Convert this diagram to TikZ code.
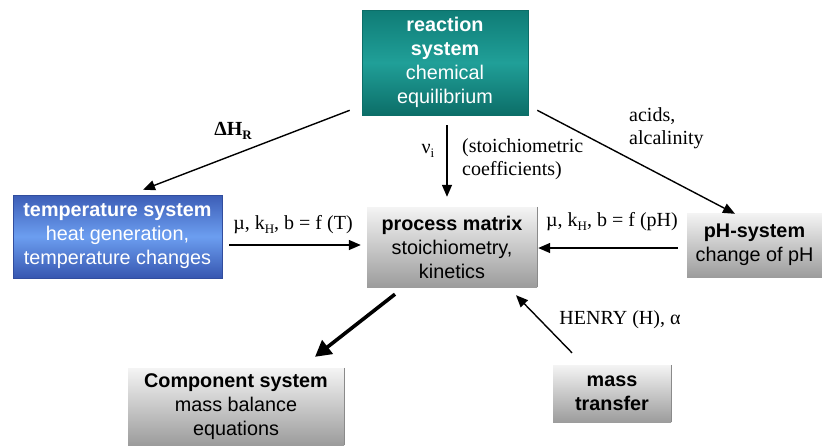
\documentclass[tikz,border=0pt]{standalone}
\usepackage{fontspec}
\setmainfont{Liberation Serif}
\newfontfamily\boxfont{Liberation Sans}
\usetikzlibrary{calc,arrows.meta}

\definecolor{tealtop}{HTML}{0F7C76}
\definecolor{tealmid}{HTML}{209F98}
\definecolor{tealbot}{HTML}{0C6E68}
\definecolor{bluetop}{HTML}{3C5DB6}
\definecolor{bluemid}{HTML}{6C9EF0}
\definecolor{bluebot}{HTML}{3656B0}
\definecolor{greytop}{HTML}{F4F4F4}
\definecolor{greybot}{HTML}{9C9C9C}
\definecolor{greyedge}{HTML}{8A8A8A}

\newcommand{\lowidx}[1]{\raisebox{-0.4ex}{\fontsize{13}{13}\selectfont #1}}

\tikzset{
  sysbox/.style={inner sep=0pt, align=center, text=white,
    font=\boxfont\fontsize{19.8}{24}\selectfont},
  tealbox/.style={sysbox, top color=tealtop, bottom color=tealbot, middle color=tealmid,
    draw=tealbot, line width=0.6pt},
  bluebox/.style={sysbox, top color=bluetop, bottom color=bluebot, middle color=bluemid,
    draw=bluebot!90!black, line width=0.6pt},
  greybox/.style={sysbox, text=black, top color=greytop, bottom color=greybot},
  lbl/.style={inner sep=0pt, font=\fontsize{20}{23}\selectfont},
  arr/.style={line width=1.4pt, -{Triangle[length=12pt,width=10pt]}},
  bigarr/.style={line width=3.6pt, -{Triangle[length=16pt,width=17pt]}},
}

\begin{document}
\begin{tikzpicture}[x=1pt,y=-1pt]
\useasboundingbox (0,0) rectangle (822,445);

% system boxes
\node[tealbox, minimum width=166pt, minimum height=105pt] (rs) at (445,62.5)
  {\textbf{reaction}\\\textbf{system}\\chemical\\equilibrium};
\node[bluebox, minimum width=209pt, minimum height=83pt] (ts) at (117.5,236.5)
  {\textbf{temperature system}\\heat generation,\\temperature changes};
\node[greybox, minimum width=170pt, minimum height=80pt] (pm) at (452,247)
  {\textbf{process matrix}\\stoichiometry,\\kinetics};
\node[greybox, minimum width=135pt, minimum height=64pt] (ph) at (754.5,245)
  {\textbf{pH-system}\\change of pH};
\node[greybox, minimum width=216pt, minimum height=77pt] (cs) at (236,406.5)
  {\textbf{Component system}\\mass balance\\equations};
\node[greybox, minimum width=118pt, minimum height=57pt] (mt) at (612,393.5)
  {\textbf{mass}\\\textbf{transfer}};

% darker right edges of the grey boxes
\foreach \b in {pm,ph,cs,mt}
  \draw[greyedge, line width=0.8pt] (\b.north east) -- (\b.south east);

% connectors
\draw[arr] ($(rs.south west)+(-12,-5)$) -- ($(ts.north)+(25.5,-5)$);
\draw[arr] ($(rs.south)+(2,10)$) -- ($(pm.north)+(-5,-10)$);
\draw[arr] ($(rs.south east)+(9,-5)$) -- ($(ph.north)+(-19.5,1)$);
\draw[arr] ($(ts.east)+(7,8.5)$) -- ($(pm.west)+(-6,-2)$);
\draw[arr] ($(ph.west)+(-9,3)$) -- ($(pm.east)+(1,1)$);
\draw[bigarr] ($(pm.south)+(-57,7)$) -- ($(cs.north)+(79,-11)$);
\draw[arr] ($(mt.north)+(-40,-12)$) -- ($(pm.south)+(64,8)$);

% connector labels
\node[lbl, font=\bfseries\fontsize{20}{23}\selectfont] (ldh) at (233,131) {ΔH\lowidx{R}};
\node[lbl] (lnu) at (428,151) {ν\lowidx{i}};
\node[lbl, anchor=west, align=left] (lst) at (462,159) {(stoichiometric\\coefficients)};
\node[lbl, anchor=west, align=left] (lac) at (629,128) {acids,\\alcalinity};
\node[lbl] (lt) at (293,225) {µ, k\lowidx{H}, b = f (T)};
\node[lbl] (lph) at (612,222) {µ, k\lowidx{H}, b = f (pH)};
\node[lbl] (lhe) at (620,320) {HENRY (H), α};
\end{tikzpicture}
\end{document}
